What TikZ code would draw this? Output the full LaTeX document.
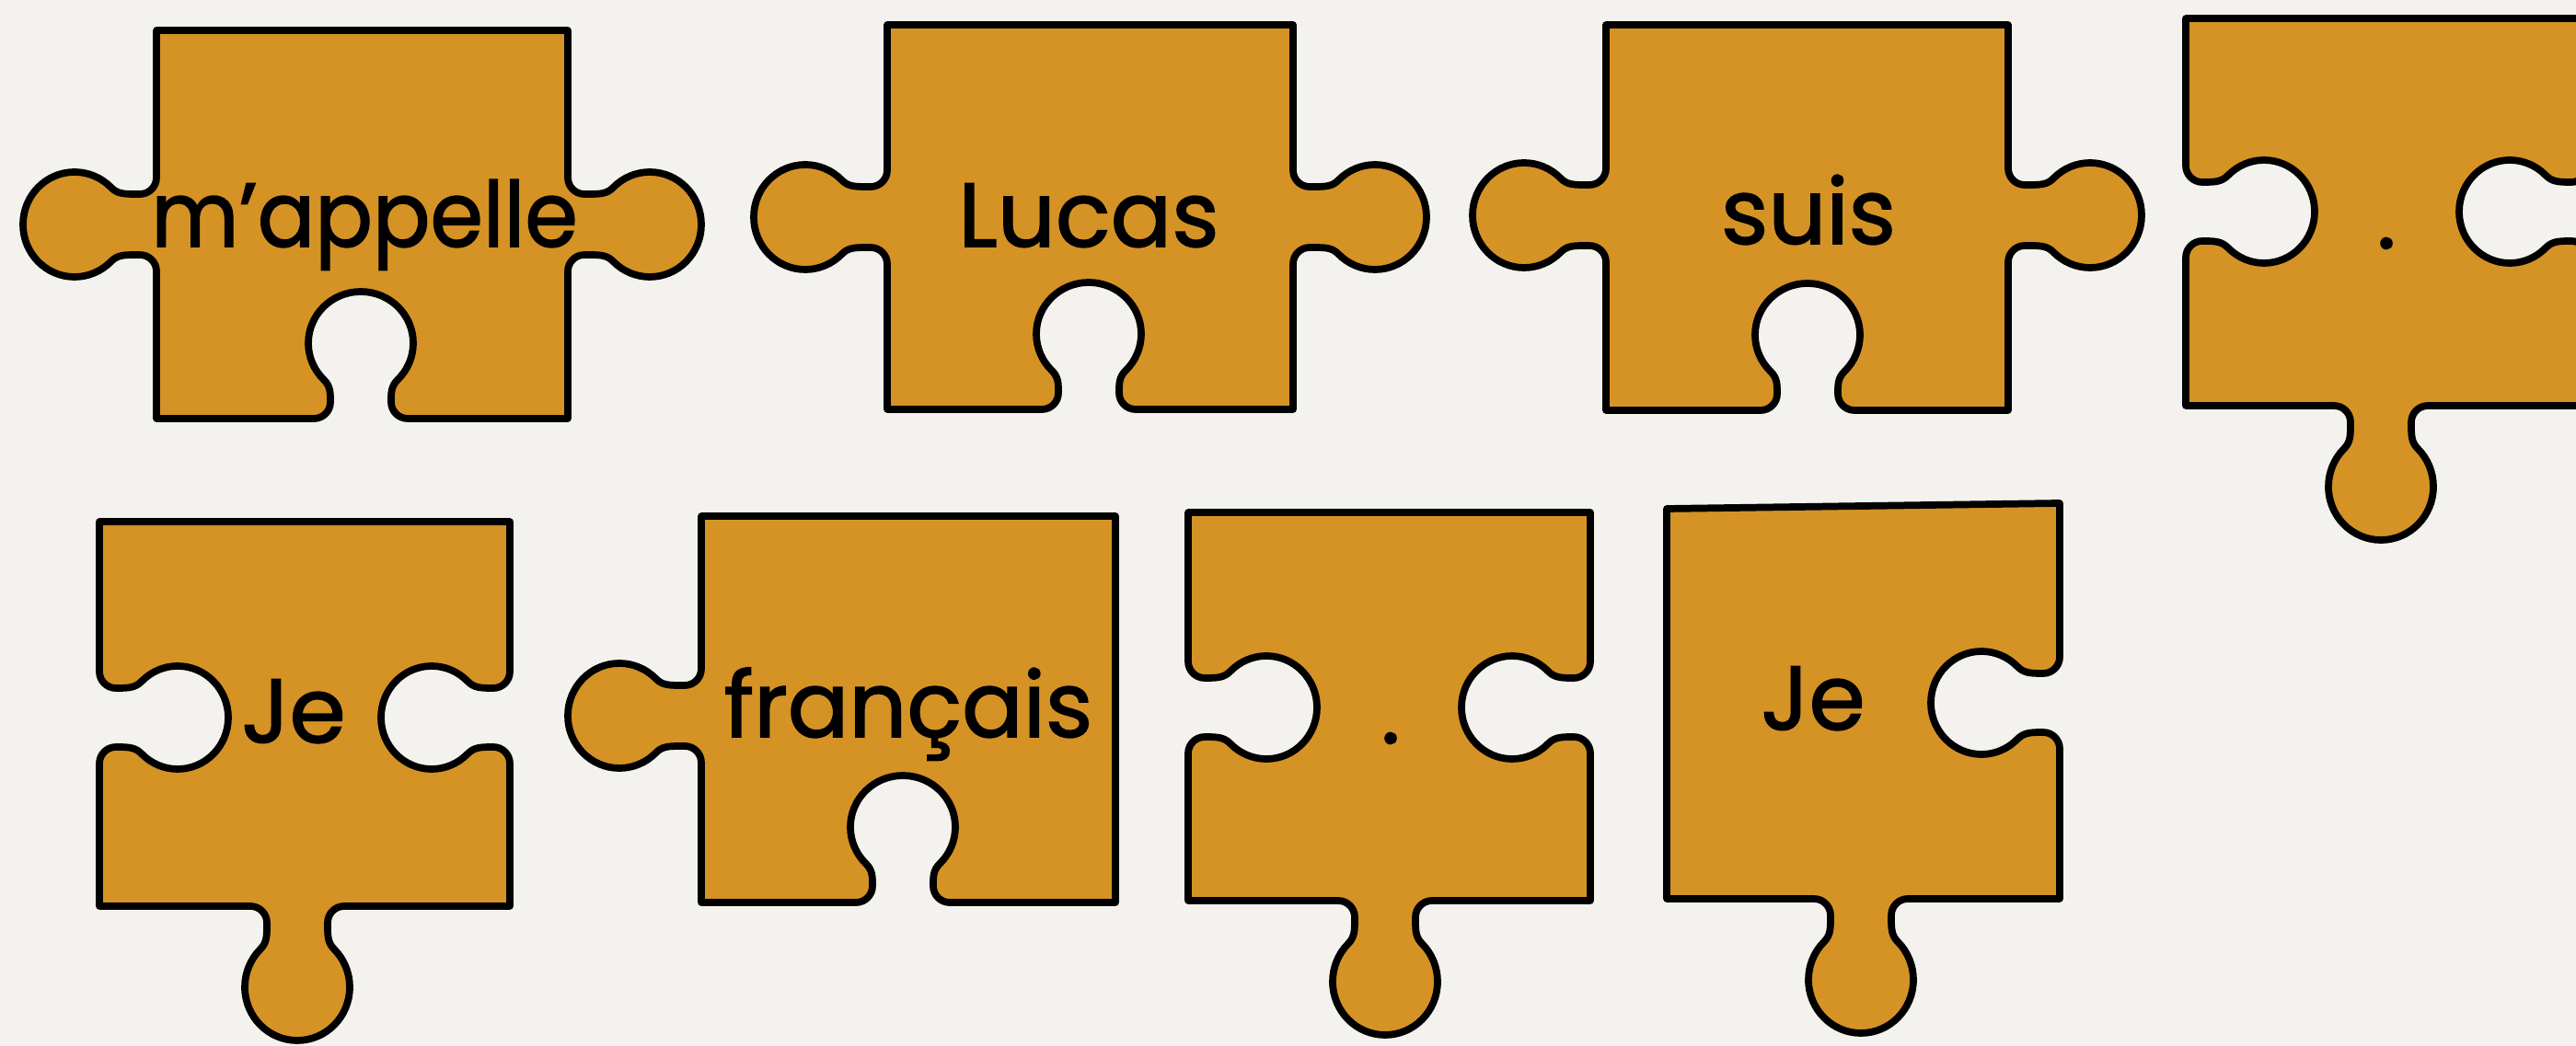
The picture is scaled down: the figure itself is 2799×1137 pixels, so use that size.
\documentclass[tikz,border=0pt]{standalone}
\usepackage{fontspec}
\setmainfont{Poppins}
\newfontfamily\wordfont{Poppins}[FakeBold=1.6]
\definecolor{bgpaper}{RGB}{243,242,238}
\definecolor{ochre}{RGB}{213,147,37}
\tikzset{
  piece/.style={fill=ochre, draw=black, line width=2.2pt, line join=round},
  word/.style={font=\wordfont\fontsize{28}{32}\selectfont, text=black, inner sep=0pt, anchor=base},
  tabR/.style n args={7}{insert path={
    -- ({#1},{#2-#4-18})
    .. controls ({#1},{#2-#4-8}) and ({#1+(#3)*8},{#2-#4}) .. ({#1+(#3)*18},{#2-#4})
    .. controls ({#1+(#3)*(#7-1.707*#6-14)},{#2-#4}) and ({#1+(#3)*(#7-1.837*#6)},{#2-0.577*#5}) .. ({#1+(#3)*(#7-1.707*#6)},{#2-0.707*#5})
    .. controls ({#1+(#3)*(#7-1.5195*#6)},{#2-0.8945*#5}) and ({#1+(#3)*(#7-1.2652*#6)},{#2-#5}) .. ({#1+(#3)*(#7-#6)},{#2-#5})
    .. controls ({#1+(#3)*(#7-0.448*#6)},{#2-#5}) and ({#1+(#3)*#7},{#2-0.552*#5}) .. ({#1+(#3)*#7},{#2})
    .. controls ({#1+(#3)*#7},{#2+0.552*#5}) and ({#1+(#3)*(#7-0.448*#6)},{#2+#5}) .. ({#1+(#3)*(#7-#6)},{#2+#5})
    .. controls ({#1+(#3)*(#7-1.2652*#6)},{#2+#5}) and ({#1+(#3)*(#7-1.5195*#6)},{#2+0.8945*#5}) .. ({#1+(#3)*(#7-1.707*#6)},{#2+0.707*#5})
    .. controls ({#1+(#3)*(#7-1.837*#6)},{#2+0.577*#5}) and ({#1+(#3)*(#7-1.707*#6-14)},{#2+#4}) .. ({#1+(#3)*18},{#2+#4})
    .. controls ({#1+(#3)*8},{#2+#4}) and ({#1},{#2+#4+8}) .. ({#1},{#2+#4+18})}},
  tabB/.style n args={7}{insert path={
    -- ({#2+#4+18},{#1})
    .. controls ({#2+#4+8},{#1}) and ({#2+#4},{#1+(#3)*8}) .. ({#2+#4},{#1+(#3)*18})
    .. controls ({#2+#4},{#1+(#3)*(#7-1.707*#6-14)}) and ({#2+0.577*#5},{#1+(#3)*(#7-1.837*#6)}) .. ({#2+0.707*#5},{#1+(#3)*(#7-1.707*#6)})
    .. controls ({#2+0.8945*#5},{#1+(#3)*(#7-1.5195*#6)}) and ({#2+#5},{#1+(#3)*(#7-1.2652*#6)}) .. ({#2+#5},{#1+(#3)*(#7-#6)})
    .. controls ({#2+#5},{#1+(#3)*(#7-0.448*#6)}) and ({#2+0.552*#5},{#1+(#3)*#7}) .. ({#2},{#1+(#3)*#7})
    .. controls ({#2-0.552*#5},{#1+(#3)*#7}) and ({#2-#5},{#1+(#3)*(#7-0.448*#6)}) .. ({#2-#5},{#1+(#3)*(#7-#6)})
    .. controls ({#2-#5},{#1+(#3)*(#7-1.2652*#6)}) and ({#2-0.8945*#5},{#1+(#3)*(#7-1.5195*#6)}) .. ({#2-0.707*#5},{#1+(#3)*(#7-1.707*#6)})
    .. controls ({#2-0.577*#5},{#1+(#3)*(#7-1.837*#6)}) and ({#2-#4},{#1+(#3)*(#7-1.707*#6-14)}) .. ({#2-#4},{#1+(#3)*18})
    .. controls ({#2-#4},{#1+(#3)*8}) and ({#2-#4-8},{#1}) .. ({#2-#4-18},{#1})}},
  tabL/.style n args={7}{insert path={
    -- ({#1},{#2+#4+18})
    .. controls ({#1},{#2+#4+8}) and ({#1-(#3)*8},{#2+#4}) .. ({#1-(#3)*18},{#2+#4})
    .. controls ({#1-(#3)*(#7-1.707*#6-14)},{#2+#4}) and ({#1-(#3)*(#7-1.837*#6)},{#2+0.577*#5}) .. ({#1-(#3)*(#7-1.707*#6)},{#2+0.707*#5})
    .. controls ({#1-(#3)*(#7-1.5195*#6)},{#2+0.8945*#5}) and ({#1-(#3)*(#7-1.2652*#6)},{#2+#5}) .. ({#1-(#3)*(#7-#6)},{#2+#5})
    .. controls ({#1-(#3)*(#7-0.448*#6)},{#2+#5}) and ({#1-(#3)*#7},{#2+0.552*#5}) .. ({#1-(#3)*#7},{#2})
    .. controls ({#1-(#3)*#7},{#2-0.552*#5}) and ({#1-(#3)*(#7-0.448*#6)},{#2-#5}) .. ({#1-(#3)*(#7-#6)},{#2-#5})
    .. controls ({#1-(#3)*(#7-1.2652*#6)},{#2-#5}) and ({#1-(#3)*(#7-1.5195*#6)},{#2-0.8945*#5}) .. ({#1-(#3)*(#7-1.707*#6)},{#2-0.707*#5})
    .. controls ({#1-(#3)*(#7-1.837*#6)},{#2-0.577*#5}) and ({#1-(#3)*(#7-1.707*#6-14)},{#2-#4}) .. ({#1-(#3)*18},{#2-#4})
    .. controls ({#1-(#3)*8},{#2-#4}) and ({#1},{#2-#4-8}) .. ({#1},{#2-#4-18})}},
  knobR/.style 2 args={tabR={#1}{#2}{1}{33}{57}{56}{145}},
  knobB/.style 2 args={tabB={#1}{#2}{1}{33}{57}{58}{146}},
  knobL/.style 2 args={tabL={#1}{#2}{1}{33}{57}{56}{145}},
  notchR/.style 2 args={tabR={#1}{#2}{-1}{32}{56}{55}{140}},
  notchB/.style 2 args={tabB={#1}{#2}{-1}{33}{57}{56}{138}},
  notchL/.style 2 args={tabL={#1}{#2}{-1}{32}{56}{55}{140}},
}
\begin{document}
\begin{tikzpicture}[x=0.01cm, y=-0.01cm]
\useasboundingbox (0,0) rectangle (2799,1137);
\fill[bgpaper] (0,0) rectangle (2799,1137);
\clip (0,0) rectangle (2799,1137);
% row 1
\draw[piece] (170,33) -- (617,33) [knobR={617}{244}] -- (617,455) [notchB={455}{392}] -- (170,455) [knobL={170}{244}] -- cycle;
\draw[piece] (964,27) -- (1405,27) [knobR={1405}{236}] -- (1405,445) [notchB={445}{1183}] -- (964,445) [knobL={964}{236}] -- cycle;
\draw[piece] (1745,27) -- (2182,27) [knobR={2182}{234}] -- (2182,446) [notchB={446}{1964}] -- (1745,446) [knobL={1745}{234}] -- cycle;
\draw[piece] (2375,20) -- (2812,20) [notchR={2812}{230}] -- (2812,441) [knobB={441}{2587}] -- (2375,441) [notchL={2375}{230}] -- cycle;
% row 2
\draw[piece] (108,567) -- (554,567) [notchR={554}{780}] -- (554,985) [knobB={985}{323}] -- (108,985) [notchL={108}{780}] -- cycle;
\draw[piece] (762,561) -- (1212,561) -- (1212,981) [notchB={981}{981}] -- (762,981) [knobL={762}{778}] -- cycle;
\draw[piece] (1291,557) -- (1728,557) [notchR={1728}{769}] -- (1728,979) [knobB={979}{1505}] -- (1291,979) [notchL={1291}{769}] -- cycle;
\draw[piece] (1811,553) -- (2238,547) [notchR={2238}{764}] -- (2238,977) [knobB={977}{2022}] -- (1811,977) -- cycle;
% words
\node[word, xscale=0.94] (w1) at (396,268) {m’appelle};
\node[word] (w2) at (1183,268) {Lucas};
\node[word] (w3) at (1965,265) {suis};
\node[word] (w4) at (2593,270) {.};
\node[word] (w5) at (319,807) {Je};
\node[word] (w6) at (987,801) {français};
\node[word] (w7) at (1511,808) {.};
\node[word] (w8) at (1970,793) {Je};
\end{tikzpicture}
\end{document}
